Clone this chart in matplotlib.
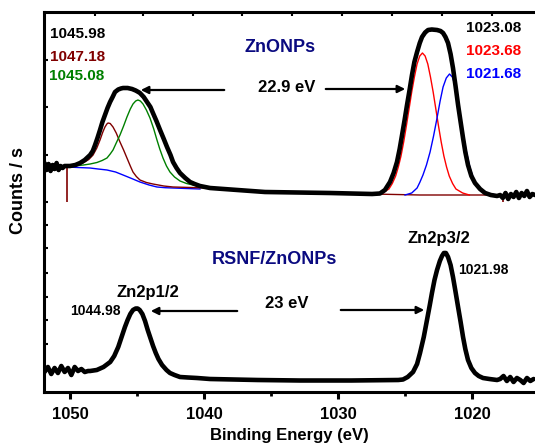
"""
Zn 2p XPS spectra of ZnONPs (fitted) and RSNF/ZnONPs
"""

import matplotlib
matplotlib.use("Agg")
import matplotlib.pyplot as plt

plt.rcParams['font.family'] = ['Liberation Sans', 'DejaVu Sans']
plt.rcParams['font.weight'] = 'bold'

# --- ZnONPs (top) envelope, binding energy (eV) vs counts (a.u.)
top_e = [1051.9, 1051.75, 1051.6, 1051.45, 1051.3, 1051.15, 1051.0, 1050.85,
         1050.7, 1050.55, 1050.4, 1050.0, 1049.6, 1049.25, 1048.9, 1048.5,
         1048.3, 1048.13, 1047.95, 1047.76, 1047.58, 1047.39, 1047.2, 1047.01,
         1046.82, 1046.64, 1046.4, 1046.2, 1046.04, 1045.7, 1045.37, 1045.1,
         1044.9, 1044.78, 1044.5, 1044.25, 1044.0, 1043.81, 1043.55, 1043.28,
         1043.0, 1042.76, 1042.5, 1042.31, 1042.05, 1041.79, 1041.4, 1041.04,
         1040.7, 1040.3, 1039.55, 1035.45, 1030.6, 1027.46, 1026.87, 1026.5,
         1026.12, 1025.85, 1025.6, 1025.4, 1025.22, 1025.03, 1024.85, 1024.66,
         1024.48, 1024.3, 1024.1, 1023.9, 1023.73, 1023.5, 1023.28, 1023.0,
         1022.61, 1022.35, 1022.16, 1021.98, 1021.79, 1021.6, 1021.42, 1021.23,
         1021.04, 1020.85, 1020.67, 1020.5, 1020.3, 1020.05, 1019.78, 1019.4,
         1019.03, 1018.6, 1018.13, 1017.9, 1017.7, 1017.5, 1017.3, 1017.1,
         1016.9, 1016.7, 1016.5, 1016.3, 1016.1, 1015.9, 1015.7, 1015.5, 1015.3]
top_v = [229, 222, 228, 221, 227, 223, 229, 222,
         226, 224, 226, 226, 227, 229, 232, 237,
         241, 247, 254, 262, 270, 277, 284, 290,
         295, 300, 302.5, 303.5, 304, 304, 303, 301.5,
         300, 299, 295, 290, 285, 279, 271, 262,
         253, 245, 237, 230, 224, 219, 214, 210,
         208, 206, 204, 200, 199, 198, 198.5, 202,
         210, 219, 230, 243, 257, 272, 287, 302,
         317, 330, 340, 349, 355, 359.5, 362, 362.5,
         362, 361, 359, 355, 349, 338, 324, 306,
         287, 270, 254, 240, 227, 216, 209, 203,
         199, 197, 196, 197, 194, 199, 193, 198,
         195, 200, 194, 199, 196, 201, 195, 198, 197]

# fitted components of the ZnONPs spectrum
green_e = [1050.22, 1049.78, 1049.0, 1048.5, 1047.99, 1047.6, 1047.24, 1047.0,
           1046.79, 1046.55, 1046.27, 1046.0, 1045.75, 1045.5, 1045.3, 1045.1,
           1044.93, 1044.75, 1044.55, 1044.3, 1044.03, 1043.75, 1043.51,
           1043.3, 1043.06, 1042.8, 1042.54, 1042.2, 1041.79, 1041.3, 1040.82,
           1040.2, 1039.55]
green_v = [225, 226, 227, 228, 229.5, 231.5, 234, 238,
           242, 249, 257, 266, 275, 283, 288, 291,
           292, 291, 288, 282, 274, 263, 252,
           243, 234, 226, 220, 215, 211, 208.5, 207,
           205.5, 204]

maroon_e = [1050.22, 1049.5, 1049.03, 1048.6, 1048.28, 1048.0, 1047.76,
            1047.55, 1047.39, 1047.25, 1047.16, 1047.0, 1046.79, 1046.55,
            1046.27, 1046.0, 1045.75, 1045.5, 1045.3, 1045.05, 1044.78,
            1044.3, 1043.81, 1043.0, 1042.31, 1041.0, 1039.78, 1037.5,
            1035.45, 1031.5, 1027.46, 1023.9, 1017.69]
maroon_v = [225, 227, 229, 232.5, 237, 244, 252,
            260, 265, 268, 269, 268.5, 265, 259,
            250, 242, 234, 226, 220, 215.5, 212,
            209.5, 208, 206, 205, 204.5, 204, 202,
            200, 199, 198, 197, 197]

bg_e = [1050.22, 1049.4, 1048.51, 1047.9, 1047.24, 1046.6, 1046.04, 1045.4,
        1044.78, 1044.1, 1043.51, 1042.9, 1042.31, 1041.3, 1040.3]
bg_v = [225, 224.5, 224, 223, 222, 220, 217, 213.5,
        210, 207, 205, 204.3, 204, 203.5, 203]

red_e = [1027.2, 1026.7, 1026.2, 1025.95, 1025.7, 1025.5, 1025.3, 1025.1,
         1024.9, 1024.7, 1024.5, 1024.3, 1024.1, 1023.9, 1023.7, 1023.5,
         1023.3, 1023.1, 1022.9, 1022.7, 1022.5, 1022.3, 1022.1, 1021.9,
         1021.7, 1021.45, 1021.2, 1020.7, 1020.2]
red_v = [197, 199, 203, 208.5, 216, 225, 236, 250,
         266, 283, 300, 315, 328, 336, 339, 336,
         328, 315, 300, 283, 266, 250, 236, 225,
         216, 208.5, 203, 199, 197]

blue_e = [1025.0, 1024.5, 1024.1, 1023.9, 1023.66, 1023.4, 1023.13, 1022.87,
          1022.61, 1022.38, 1022.16, 1021.92, 1021.68, 1021.47, 1021.27,
          1021.08, 1020.9, 1020.7, 1020.52, 1020.33, 1020.15, 1019.9, 1019.63,
          1019.25, 1018.88, 1018.2]
blue_v = [197, 199, 204, 209.5, 217, 227, 240, 256,
          274, 291, 305, 314, 318, 315, 307,
          293, 277, 261, 247, 235, 224, 214, 207,
          202, 199, 197]

# fit window limits (vertical marks)
fit_bounds = [1050.22, 1017.69]
fit_low = [190, 190]
fit_high = [225, 197]

# --- RSNF/ZnONPs (bottom)
bot_e = [1051.9, 1051.65, 1051.4, 1051.15, 1050.9, 1050.65, 1050.4, 1050.15,
         1049.9, 1049.65, 1049.4, 1049.15, 1048.9, 1048.65, 1048.5, 1048.0,
         1047.5, 1047.0, 1046.7, 1046.4, 1046.1, 1045.9, 1045.7, 1045.5,
         1045.3, 1045.1, 1044.95, 1044.8, 1044.6, 1044.4, 1044.2, 1044.0,
         1043.8, 1043.6, 1043.4, 1043.13, 1042.8, 1042.54, 1042.2, 1041.79,
         1041.2, 1040.52, 1039.55, 1036.0, 1032.84, 1029.0, 1025.5, 1025.15,
         1024.8, 1024.4,
         1024.1, 1023.88, 1023.6, 1023.36, 1023.15, 1022.99, 1022.8, 1022.61,
         1022.4, 1022.24, 1022.1, 1021.95, 1021.79, 1021.6, 1021.42, 1021.24,
         1021.04, 1020.85, 1020.67, 1020.5, 1020.3, 1020.05, 1019.78, 1019.5,
         1019.18, 1018.7, 1018.13, 1017.9, 1017.65, 1017.4, 1017.15, 1016.9,
         1016.65, 1016.4, 1016.15, 1015.9, 1015.65, 1015.4]
bot_v = [20, 25, 18, 24, 19, 26, 20, 24,
         17, 25, 21, 23, 20, 21, 21, 22,
         25, 30, 36, 45, 57, 65, 72, 78,
         82, 83.5, 83.5, 82, 78, 71, 62, 54,
         46, 39, 33, 27, 22, 19, 17, 15,
         14.5, 14, 13, 12, 11.5, 11.5, 12, 12.5,
         15, 20,
         28, 39, 55, 72, 87, 99, 112, 122,
         131, 136, 139, 139, 135, 127, 115, 101,
         85, 70, 55, 43, 32, 24, 19, 16,
         14, 13, 12, 13, 16, 11, 15, 10,
         14, 12, 9, 14, 11, 13]

x_ticks = [1050, 1040, 1030, 1020]
x_minor = [1045, 1035, 1025]
y_ticks = [25, 48, 72, 95, 119, 144, 167, 190, 237, 285, 332]
top_ticks = [1048.13, 1044.55, 1040.82, 1037.16, 1033.43, 1029.7, 1025.97,
             1022.24, 1018.51]

fig = plt.figure(figsize=(5.35, 4.47), dpi=100)
ax = fig.add_axes([44 / 535, 55 / 447, 491 / 535, 380 / 447])

ax.plot(bg_e, bg_v, color='#0000ff', lw=1.0, zorder=2)
ax.plot(maroon_e, maroon_v, color='#800000', lw=1.0, zorder=2)
ax.plot(green_e, green_v, color='#008000', lw=1.0, zorder=2)
ax.plot(red_e, red_v, color='#ff0000', lw=1.0, zorder=2)
ax.plot(blue_e, blue_v, color='#0000ff', lw=1.0, zorder=2)
ax.vlines(fit_bounds, fit_low, fit_high, color='#800000', lw=1.2, zorder=2)
ax.plot(top_e, top_v, color='black', lw=3.3, zorder=3,
        solid_joinstyle='round', solid_capstyle='round')
ax.plot(bot_e, bot_v, color='black', lw=3.3, zorder=3,
        solid_joinstyle='round', solid_capstyle='round')

ax.set_xlim(1051.94, 1015.3)
ax.set_ylim(0, 380)

for s in ['left', 'bottom', 'top']:
    ax.spines[s].set_linewidth(2.2)
ax.spines['right'].set_visible(False)

ax.set_xticks(x_ticks)
ax.set_xticks(x_minor, minor=True)
ax.set_xticklabels([str(t) for t in x_ticks], fontsize=12, fontweight='bold')
ax.tick_params(axis='x', which='major', direction='out', length=5, width=2.2, pad=6)
ax.tick_params(axis='x', which='minor', direction='out', length=3, width=2.0)
ax.set_yticks(y_ticks)
ax.set_yticklabels([])
ax.tick_params(axis='y', direction='in', length=3, width=1.5)

# small inward ticks along the top edge
top = ax.secondary_xaxis('top')
top.set_xticks(top_ticks)
top.set_xticklabels([])
top.tick_params(direction='in', length=3, width=1.5)
top.spines['top'].set_visible(False)

ax.set_xlabel('Binding Energy (eV)', fontsize=12, fontweight='bold', labelpad=4)
ax.set_ylabel('Counts / s', fontsize=13, fontweight='bold')
ax.yaxis.set_label_coords(-0.034, 0.53)

def px(x, y):
    # figure pixel position (from top left) to figure fraction
    return x / 535, 1 - y / 447

txt = dict(fontweight='bold', transform=fig.transFigure)
fig.text(*px(50, 34), '1045.98', color='black', fontsize=11, va='center', **txt)
fig.text(*px(50, 57), '1047.18', color='#800000', fontsize=11, va='center', **txt)
fig.text(*px(49, 76), '1045.08', color='#008000', fontsize=11, va='center', **txt)
fig.text(*px(280, 48), 'ZnONPs', color='#0a0a80', fontsize=13, va='center', ha='center', **txt)
fig.text(*px(287, 88), '22.9 eV', color='black', fontsize=12, va='center', ha='center', **txt)
fig.text(*px(466, 28), '1023.08', color='black', fontsize=11, va='center', **txt)
fig.text(*px(466, 51), '1023.68', color='#ff0000', fontsize=11, va='center', **txt)
fig.text(*px(466, 74), '1021.68', color='#0000ff', fontsize=11, va='center', **txt)

fig.text(*px(274, 259), 'RSNF/ZnONPs', color='#0a0a80', fontsize=13, va='center', ha='center', **txt)
fig.text(*px(148, 293), 'Zn2p1/2', color='black', fontsize=12, va='center', ha='center', **txt)
fig.text(*px(70, 311), '1044.98', color='black', fontsize=10, va='center', **txt)
fig.text(*px(287, 304), '23 eV', color='black', fontsize=12, va='center', ha='center', **txt)
fig.text(*px(439, 239), 'Zn2p3/2', color='black', fontsize=12, va='center', ha='center', **txt)
fig.text(*px(458, 270), '1021.98', color='black', fontsize=10, va='center', **txt)

arrow = dict(arrowstyle='-|>', color='black', lw=1.6, mutation_scale=11)
for start, end in [((227, 90), (138, 90)), ((323, 89), (408, 89)),
                   ((240, 311), (148, 311)), ((338, 310), (427, 310))]:
    ax.annotate('', xy=px(*end), xytext=px(*start), xycoords='figure fraction',
                textcoords='figure fraction', arrowprops=arrow)

plt.savefig('out.png', dpi=100)
